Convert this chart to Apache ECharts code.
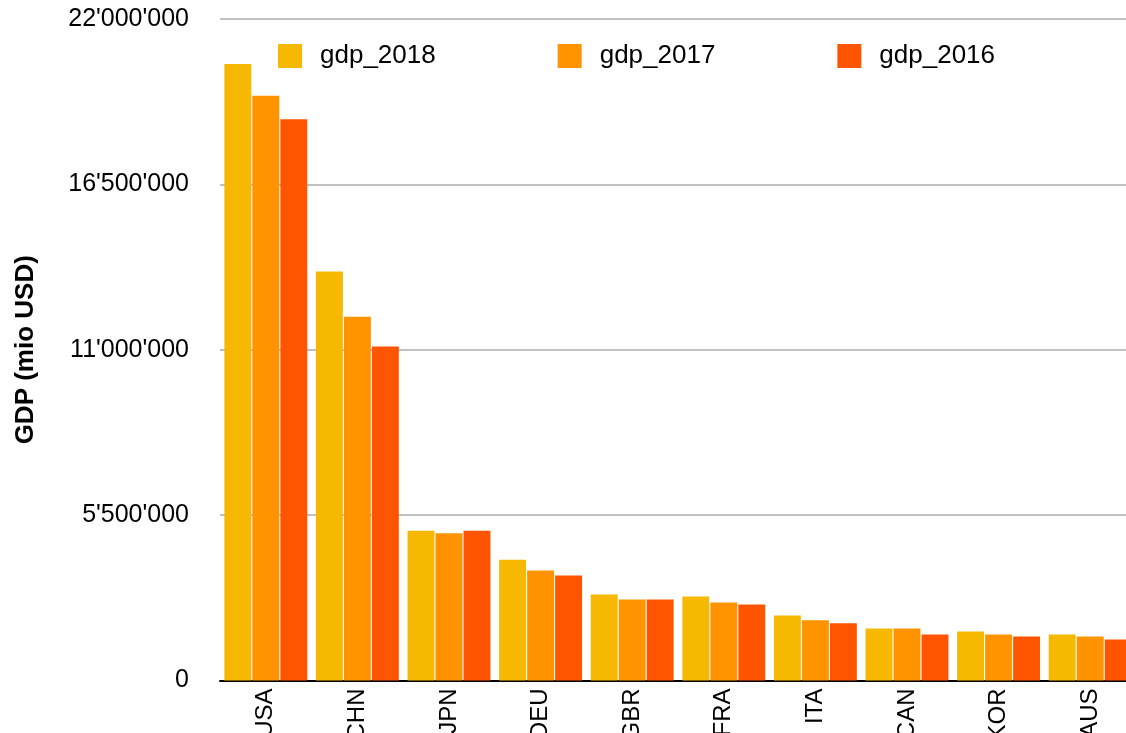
<!DOCTYPE html>
<html>
<head>
<meta charset="utf-8">
<script src="https://cdn.jsdelivr.net/npm/echarts@6/dist/echarts.min.js"></script>
<style>
html,body{margin:0;padding:0;background:#fff;}
#chart{width:1126px;height:733px;}
</style>
</head>
<body>
<div id="chart"></div>
<script>
const categories = ['USA','CHN','JPN','DEU','GBR','FRA','ITA','CAN','KOR','AUS'];
const gdp2018 = [20500000, 13600000, 4980000, 4020000, 2860000, 2790000, 2160000, 1730000, 1630000, 1530000];
const gdp2017 = [19450000, 12100000, 4900000, 3660000, 2690000, 2590000, 2000000, 1730000, 1530000, 1460000];
const gdp2016 = [18670000, 11110000, 4980000, 3490000, 2690000, 2530000, 1900000, 1530000, 1460000, 1360000];
const seriesNames = ['gdp_2018','gdp_2017','gdp_2016'];
const colors = ['#F6B800','#FF9300','#FF5500'];
const yAxisName = 'GDP (mio USD)';

const font = '"Liberation Sans", Arial, Helvetica, sans-serif';
const fmt = v => String(v).replace(/\B(?=(\d{3})+(?!\d))/g, "'");

const chart = echarts.init(document.getElementById('chart'), null, {renderer:'canvas'});
const seriesData = [gdp2018, gdp2017, gdp2016];
chart.setOption({
  animation: false,
  color: colors,
  textStyle: {fontFamily: font},
  grid: {left: 220, right: -10, top: 19, bottom: 52.5, containLabel: false, outerBoundsMode: 'none'},
  legend: {
    left: 278, top: 43, padding: 0,
    itemWidth: 24, itemHeight: 24, itemGap: 122,
    icon: 'rect',
    textStyle: {fontSize: 26, color: '#000', fontFamily: font, padding: [0,0,0,13]},
    data: seriesNames
  },
  xAxis: {
    type: 'category',
    data: categories,
    axisLine: {lineStyle: {color: '#000', width: 2}},
    axisTick: {show: false},
    axisLabel: {rotate: 90, fontSize: 24, color: '#000', margin: 8, fontFamily: font}
  },
  yAxis: {
    type: 'value',
    min: 0, max: 22000000, interval: 5500000,
    name: yAxisName,
    nameLocation: 'middle',
    nameGap: 181,
    nameTextStyle: {fontSize: 26, fontWeight: 'bold', color: '#000', fontFamily: font},
    axisLine: {show: false},
    axisTick: {show: false},
    axisLabel: {fontSize: 25, color: '#000', margin: 31, formatter: fmt, fontFamily: font},
    splitLine: {lineStyle: {color: '#C0C0C0', width: 2}}
  },
  series: seriesNames.map((n, i) => ({
    name: n,
    type: 'bar',
    data: seriesData[i],
    barGap: '4%',
    barCategoryGap: '9.5%',
    itemStyle: {color: colors[i]}
  }))
});
</script>
</body>
</html>
